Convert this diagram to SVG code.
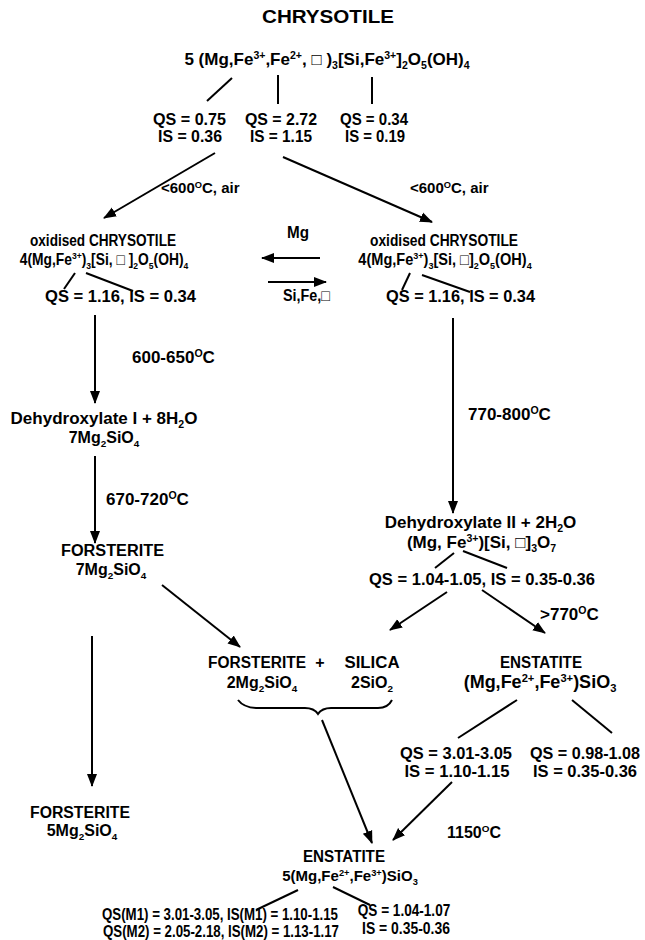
<svg xmlns="http://www.w3.org/2000/svg" width="645" height="940" viewBox="0 0 645 940">
<style>
text{font-family:"Liberation Sans",Arial,sans-serif;font-weight:bold;font-size:16px;fill:#000;text-anchor:middle}
.t{font-size:19px}
.s{text-anchor:start}
.sm{font-size:0.62em}
.f15{font-size:15px}
.f17{font-size:17px}
.f18{font-size:18px}
.ln{stroke:#000;stroke-width:2;fill:none}
.ar{stroke:#000;stroke-width:2;fill:none;marker-end:url(#ah)}
</style>
<defs>
<marker id="ah" markerUnits="userSpaceOnUse" markerWidth="14" markerHeight="12" refX="12" refY="5" orient="auto" viewBox="0 0 14 10">
<path d="M0,0 L13,5 L0,10 Z" fill="#000"/>
</marker>
</defs>
<rect width="645" height="940" fill="#fff"/>

<g id="title"><text class="t" x="328" y="23" textLength="132" lengthAdjust="spacingAndGlyphs">CHRYSOTILE</text></g>

<g id="chrysotile">
<text class="f17" x="327" y="65">5 (Mg,Fe<tspan class="sm" dy="-6">3+</tspan><tspan dy="6">,Fe</tspan><tspan class="sm" dy="-6">2+</tspan><tspan dy="6">,  □  )</tspan><tspan class="sm" dy="4">3</tspan><tspan dy="-4">[Si,Fe</tspan><tspan class="sm" dy="-6">3+</tspan><tspan dy="6">]</tspan><tspan class="sm" dy="4">2</tspan><tspan dy="-4">O</tspan><tspan class="sm" dy="4">5</tspan><tspan dy="-4">(OH)</tspan><tspan class="sm" dy="4">4</tspan></text>
<text x="189.5" y="125" textLength="73" lengthAdjust="spacingAndGlyphs">QS = 0.75</text>
<text x="190" y="142" textLength="64" lengthAdjust="spacingAndGlyphs">IS = 0.36</text>
<text x="281" y="125" textLength="72" lengthAdjust="spacingAndGlyphs">QS = 2.72</text>
<text x="281" y="142" textLength="62" lengthAdjust="spacingAndGlyphs">IS = 1.15</text>
<text x="374" y="125" textLength="68" lengthAdjust="spacingAndGlyphs">QS = 0.34</text>
<text x="375" y="142" textLength="60" lengthAdjust="spacingAndGlyphs">IS = 0.19</text>
</g>

<g id="oxidised-left">
<text x="103" y="246" textLength="146" lengthAdjust="spacingAndGlyphs">oxidised CHRYSOTILE</text>
<text transform="translate(104,265) scale(0.865,1)" x="0" y="0">4(Mg,Fe<tspan class="sm" dy="-6">3+</tspan><tspan dy="6">)</tspan><tspan class="sm" dy="4">3</tspan><tspan dy="-4">[Si, □ ]</tspan><tspan class="sm" dy="4">2</tspan><tspan dy="-4">O</tspan><tspan class="sm" dy="4">5</tspan><tspan dy="-4">(OH)</tspan><tspan class="sm" dy="4">4</tspan></text>
<text x="120.5" y="302" textLength="151" lengthAdjust="spacingAndGlyphs">QS = 1.16, IS = 0.34</text>
</g>

<g id="exchange">
<text x="298" y="238" textLength="22" lengthAdjust="spacingAndGlyphs">Mg</text>
<text x="306.5" y="301" textLength="47" lengthAdjust="spacingAndGlyphs">Si,Fe,□</text>
</g>

<g id="oxidised-right">
<text x="444" y="246" textLength="148" lengthAdjust="spacingAndGlyphs">oxidised CHRYSOTILE</text>
<text transform="translate(445,265) scale(0.91,1)" x="0" y="0">4(Mg,Fe<tspan class="sm" dy="-6">3+</tspan><tspan dy="6">)</tspan><tspan class="sm" dy="4">3</tspan><tspan dy="-4">[Si,  □]</tspan><tspan class="sm" dy="4">2</tspan><tspan dy="-4">O</tspan><tspan class="sm" dy="4">5</tspan><tspan dy="-4">(OH)</tspan><tspan class="sm" dy="4">4</tspan></text>
<text x="460.5" y="302" textLength="149" lengthAdjust="spacingAndGlyphs">QS = 1.16, IS = 0.34</text>
</g>

<g id="dehydroxylate-1">
<text class="f17" x="104" y="424">Dehydroxylate I  + 8H<tspan class="sm" dy="4">2</tspan><tspan dy="-4">O</tspan></text>
<text x="104" y="443">7Mg<tspan class="sm" dy="4">2</tspan><tspan dy="-4">SiO</tspan><tspan class="sm" dy="4">4</tspan></text>
</g>

<g id="forsterite-7">
<text x="112.5" y="556" textLength="103" lengthAdjust="spacingAndGlyphs">FORSTERITE</text>
<text x="111" y="575">7Mg<tspan class="sm" dy="4">2</tspan><tspan dy="-4">SiO</tspan><tspan class="sm" dy="4">4</tspan></text>
</g>

<g id="dehydroxylate-2">
<text class="f17" x="480.5" y="528">Dehydroxylate II  + 2H<tspan class="sm" dy="4">2</tspan><tspan dy="-4">O</tspan></text>
<text class="f17" x="481.5" y="548">(Mg, Fe<tspan class="sm" dy="-6">3+</tspan><tspan dy="6">)[Si,  □]</tspan><tspan class="sm" dy="4">3</tspan><tspan dy="-4">O</tspan><tspan class="sm" dy="4">7</tspan></text>
<text x="482" y="585" textLength="226" lengthAdjust="spacingAndGlyphs">QS = 1.04-1.05, IS = 0.35-0.36</text>
</g>

<g id="forsterite-silica">
<text x="257" y="668" textLength="98" lengthAdjust="spacingAndGlyphs">FORSTERITE</text>
<text x="262" y="688">2Mg<tspan class="sm" dy="4">2</tspan><tspan dy="-4">SiO</tspan><tspan class="sm" dy="4">4</tspan></text>
<text x="320" y="668">+</text>
<text x="372" y="668" textLength="55" lengthAdjust="spacingAndGlyphs">SILICA</text>
<text x="372" y="688">2SiO<tspan class="sm" dy="4">2</tspan></text>
</g>

<g id="enstatite-1">
<text x="541" y="668" textLength="82" lengthAdjust="spacingAndGlyphs">ENSTATITE</text>
<text class="f18" x="540" y="688">(Mg,Fe<tspan class="sm" dy="-6">2+</tspan><tspan dy="6">,Fe</tspan><tspan class="sm" dy="-6">3+</tspan><tspan dy="6">)SiO</tspan><tspan class="sm" dy="4">3</tspan></text>
<text x="456" y="759" textLength="112" lengthAdjust="spacingAndGlyphs">QS = 3.01-3.05</text>
<text x="457" y="777" textLength="105" lengthAdjust="spacingAndGlyphs">IS = 1.10-1.15</text>
<text x="585" y="759" textLength="110" lengthAdjust="spacingAndGlyphs">QS = 0.98-1.08</text>
<text x="585" y="777" textLength="104" lengthAdjust="spacingAndGlyphs">IS = 0.35-0.36</text>
</g>

<g id="forsterite-5">
<text x="80" y="818" textLength="100" lengthAdjust="spacingAndGlyphs">FORSTERITE</text>
<text x="82" y="836">5Mg<tspan class="sm" dy="4">2</tspan><tspan dy="-4">SiO</tspan><tspan class="sm" dy="4">4</tspan></text>
</g>

<g id="enstatite-2">
<text x="344" y="862" textLength="82" lengthAdjust="spacingAndGlyphs">ENSTATITE</text>
<text class="f15" x="350" y="881">5(Mg,Fe<tspan class="sm" dy="-5">2+</tspan><tspan dy="5">,Fe</tspan><tspan class="sm" dy="-5">3+</tspan><tspan dy="5">)SiO</tspan><tspan class="sm" dy="4">3</tspan></text>
<text transform="translate(220,920) scale(0.83,1)" x="0" y="0">QS(M1) = 3.01-3.05, IS(M1) = 1.10-1.15</text>
<text transform="translate(221,937) scale(0.83,1)" x="0" y="0">QS(M2) = 2.05-2.18, IS(M2) = 1.13-1.17</text>
<text transform="translate(404,916) scale(0.85,1)" x="0" y="0">QS = 1.04-1.07</text>
<text transform="translate(406,934) scale(0.87,1)" x="0" y="0">IS = 0.35-0.36</text>
</g>

<g id="labels">
<text class="s f15" x="161" y="193">&lt;600<tspan class="sm" dy="-5">O</tspan><tspan dy="5">C, air</tspan></text>
<text class="s f15" x="410" y="193">&lt;600<tspan class="sm" dy="-5">O</tspan><tspan dy="5">C, air</tspan></text>
<text class="s f17" x="132" y="363">600-650<tspan class="sm" dy="-6">O</tspan><tspan dy="6">C</tspan></text>
<text class="s f17" x="468" y="420">770-800<tspan class="sm" dy="-6">O</tspan><tspan dy="6">C</tspan></text>
<text class="s f17" x="106" y="505">670-720<tspan class="sm" dy="-6">O</tspan><tspan dy="6">C</tspan></text>
<text class="s f17" x="540" y="620">&gt;770<tspan class="sm" dy="-6">O</tspan><tspan dy="6">C</tspan></text>
<text class="s" x="447" y="838">1150<tspan class="sm" dy="-6">O</tspan><tspan dy="6">C</tspan></text>
</g>

<g id="connectors">
<line class="ln" x1="232" y1="78" x2="207" y2="101"/>
<line class="ln" x1="278" y1="75" x2="278" y2="104"/>
<line class="ln" x1="372" y1="77" x2="372" y2="104"/>
<line class="ar" x1="215" y1="153" x2="104" y2="218"/>
<line class="ar" x1="283" y1="157" x2="432" y2="222"/>
<line class="ar" x1="320" y1="258" x2="262" y2="258"/>
<line class="ar" x1="268" y1="282" x2="326" y2="282"/>
<line class="ln" x1="75" y1="273" x2="64" y2="289"/>
<line class="ln" x1="86" y1="273" x2="133" y2="291"/>
<line class="ln" x1="410" y1="273" x2="402" y2="290"/>
<line class="ln" x1="422" y1="275" x2="470" y2="292"/>
<line class="ar" x1="95" y1="315" x2="95" y2="403"/>
<line class="ar" x1="453" y1="318" x2="453" y2="513"/>
<line class="ar" x1="95" y1="456" x2="95" y2="543"/>
<line class="ln" x1="454" y1="553" x2="435" y2="568"/>
<line class="ln" x1="463" y1="551" x2="507" y2="568"/>
<line class="ar" x1="447" y1="592" x2="390" y2="630"/>
<line class="ar" x1="482" y1="590" x2="545" y2="633"/>
<line class="ar" x1="162" y1="585" x2="240" y2="647"/>
<line class="ar" x1="92" y1="636" x2="92" y2="786"/>
<path class="ln" stroke-width="1.5" d="M238,700 Q244,708 258,708 L305,708 Q314,708 318,714 Q322,708 331,708 L378,708 Q388,708 392,700"/>
<line class="ar" x1="322" y1="720" x2="372" y2="843"/>
<line class="ln" x1="517" y1="700" x2="458" y2="738"/>
<line class="ln" x1="572" y1="700" x2="612" y2="733"/>
<line class="ar" x1="452" y1="782" x2="393" y2="840"/>
<line class="ln" x1="298" y1="890" x2="256" y2="910"/>
<line class="ln" x1="333" y1="887" x2="370" y2="905"/>
</g>
</svg>
